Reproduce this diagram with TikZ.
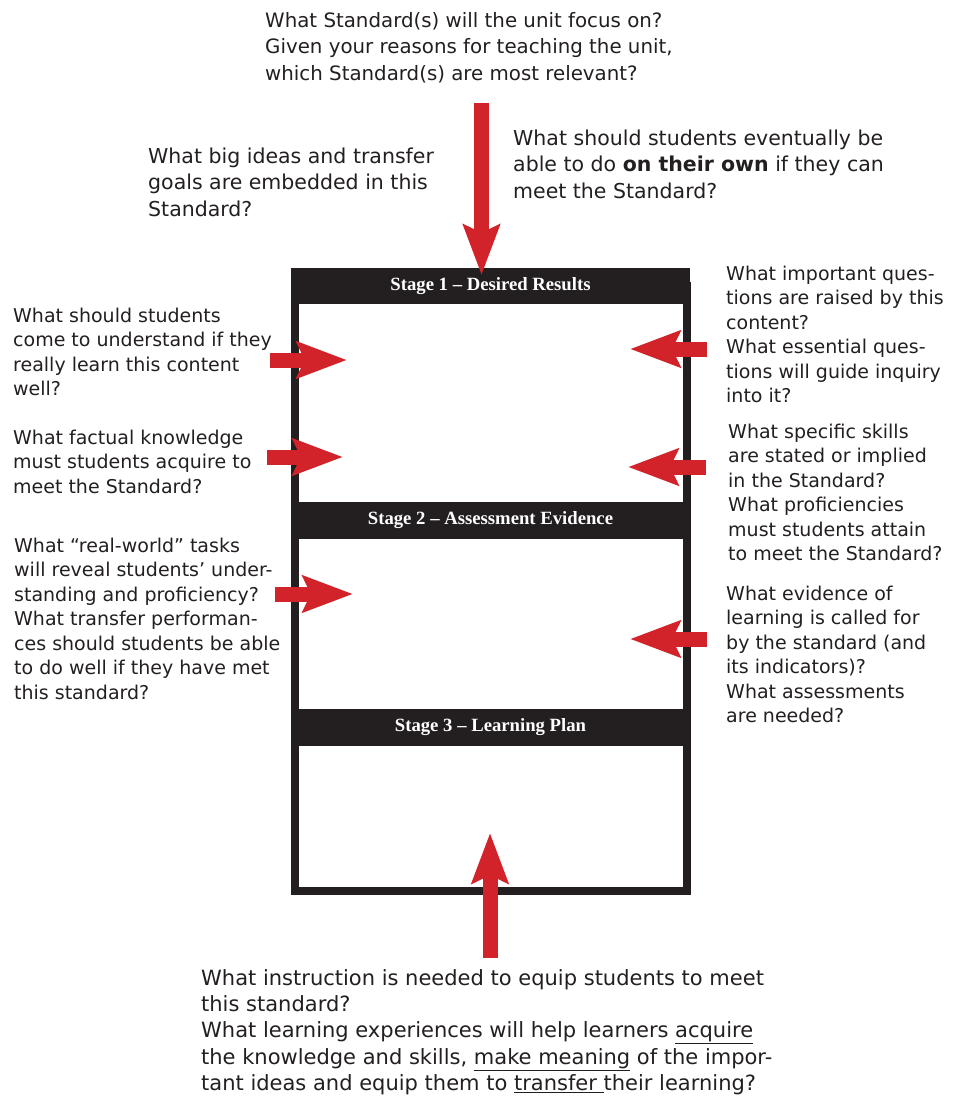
\documentclass[tikz,border=0pt]{standalone}
\usepackage{fontspec}
\setmainfont{DejaVu Sans}
\newfontfamily\stagefont{Liberation Serif}
\usetikzlibrary{arrows.meta}
\definecolor{ubdred}{RGB}{210,35,42}
\definecolor{ubdblack}{RGB}{35,31,32}

\begin{document}
\begin{tikzpicture}[x = 1pt, y = -1pt,
	ask/.style = {anchor=north west, align=left, inner sep=0pt, text=ubdblack, font=\fontsize{19}{24.5}\selectfont},
	askbig/.style = {ask, font=\fontsize{20.5}{26.5}\selectfont},
	stagebar/.style = {fill=ubdblack, text=white, minimum width=399pt, minimum height=36pt, inner sep=0pt, font=\stagefont\bfseries\fontsize{18.7}{20}\selectfont},
	bigarrow/.style = {ubdred, line width=15pt, -{Stealth[length=50pt, width=36pt, inset=8pt]}}]
	\useasboundingbox (0,0) rectangle (952,1099);
	\draw [ubdblack, line width=8pt] (295,286) rectangle (686.5,891);
	\node [stagebar] (stage1) at (490.5,286) {Stage 1 – Desired Results};
	\node [stagebar, minimum height=37pt] (stage2) at (490.5,520.5) {Stage 2 – Assessment Evidence};
	\node [stagebar, minimum height=37pt] (stage3) at (490.5,727.5) {Stage 3 – Learning Plan};
	\node [askbig, font=\fontsize{19.8}{26.5}\selectfont] (unitstd) at (265,11.8) {What Standard(s) will the unit focus on?\\Given your reasons for teaching the unit,\\which Standard(s) are most relevant?};
	\node [askbig] (bigideas) at (148,147.4) {What big ideas and transfer\\goals are embedded in this\\Standard?};
	\node [askbig] (ownuse) at (513,129.4) {What should students eventually be\\able to do \textbf{on their own} if they can\\meet the Standard?};
	\node [ask] (understand) at (13,307.6) {What should students\\come to understand if they\\really learn this content\\well?};
	\node [ask] (knowledge) at (13,429.6) {What factual knowledge\\must students acquire to\\meet the Standard?};
	\node [ask] (tasks) at (14,537.6) {What “real-world” tasks\\will reveal students’ under-\\standing and proficiency?\\What transfer performan-\\ces should students be able\\to do well if they have met\\this standard?};
	\node [ask] (questions) at (726,265.6) {What important ques-\\tions are raised by this\\content?\\What essential ques-\\tions will guide inquiry\\into it?};
	\node [ask] (skills) at (728,423.6) {What specific skills\\are stated or implied\\in the Standard?\\What proficiencies\\must students attain\\to meet the Standard?};
	\node [ask] (evidence) at (726,585.6) {What evidence of\\learning is called for\\by the standard (and\\its indicators)?\\What assessments\\are needed?};
	\node [askbig, font=\fontsize{21}{26.3}\selectfont] (instruct) at (201,969) {What instruction is needed to equip students to meet\\this standard?\\What learning experiences will help learners \underline{acquire}\\the knowledge and skills, \underline{make meaning} of the impor-\\tant ideas and equip them to \underline{transfer\ }their learning?};
	\coordinate (unitstd-out) at (481.5,103);
	\coordinate (stage1-in) at (481.5,275);
	\coordinate (understand-out) at (270,360);
	\coordinate (understand-in) at (347,360);
	\coordinate (knowledge-out) at (267,457);
	\coordinate (knowledge-in) at (343,457);
	\coordinate (tasks-out) at (275,594);
	\coordinate (tasks-in) at (353,594);
	\coordinate (questions-out) at (707,349);
	\coordinate (questions-in) at (630,349);
	\coordinate (skills-out) at (706,467);
	\coordinate (skills-in) at (628,467);
	\coordinate (evidence-out) at (707,639);
	\coordinate (evidence-in) at (630,639);
	\coordinate (instruct-out) at (490,958);
	\coordinate (stage3-in) at (490,833);
	\draw [bigarrow] (unitstd-out) -- (stage1-in);
	\draw [bigarrow] (understand-out) -- (understand-in);
	\draw [bigarrow] (knowledge-out) -- (knowledge-in);
	\draw [bigarrow] (tasks-out) -- (tasks-in);
	\draw [bigarrow] (questions-out) -- (questions-in);
	\draw [bigarrow] (skills-out) -- (skills-in);
	\draw [bigarrow] (evidence-out) -- (evidence-in);
	\draw [bigarrow] (instruct-out) -- (stage3-in);
\end{tikzpicture}
\end{document}
